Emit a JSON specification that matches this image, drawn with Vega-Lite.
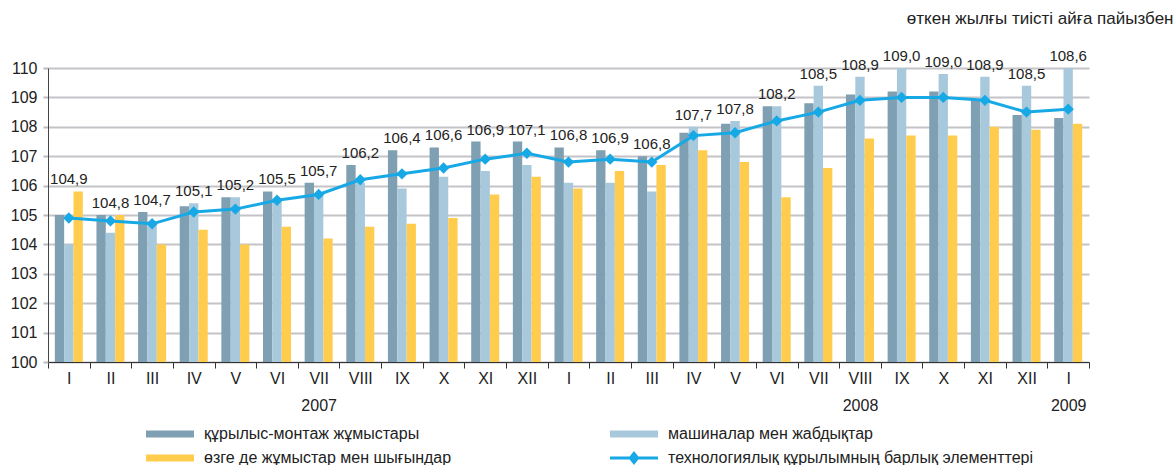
{
  "$schema": "https://vega.github.io/schema/vega-lite/v6.json",
  "width": 1041,
  "height": 294,
  "autosize": "none",
  "padding": {"left": 48, "top": 68, "right": 87, "bottom": 103},
  "background": "white",
  "config": {
    "font": "Liberation Sans",
    "view": {"stroke": null},
    "axisY": {
      "values": [100, 101, 102, 103, 104, 105, 106, 107, 108, 109, 110],
      "tickCount": 11,
      "labelOverlap": false,
      "format": "d",
      "grid": true,
      "gridColor": "#C3C3C8",
      "gridWidth": 2,
      "tickSize": 5,
      "tickColor": "#BBBBC0",
      "tickWidth": 2,
      "domainColor": "#444444",
      "domainWidth": 1,
      "labelFontSize": 16,
      "labelColor": "#222222",
      "labelPadding": 6,
      "title": null
    }
  },
  "title": {
    "text": "өткен жылғы тиісті  айға пайызбен",
    "anchor": "end",
    "orient": "top",
    "offset": 21,
    "dx": 84,
    "fontSize": 17,
    "fontWeight": "normal",
    "font": "Liberation Sans",
    "color": "#222222"
  },
  "data": {
    "values": [
      {"m": "I-2007", "a": 105.0, "b": 104.0, "c": 105.8, "t": 104.9},
      {"m": "II-2007", "a": 105.0, "b": 104.4, "c": 105.0, "t": 104.8},
      {"m": "III-2007", "a": 105.1, "b": 104.8, "c": 104.0, "t": 104.7},
      {"m": "IV-2007", "a": 105.3, "b": 105.4, "c": 104.5, "t": 105.1},
      {"m": "V-2007", "a": 105.6, "b": 105.6, "c": 104.0, "t": 105.2},
      {"m": "VI-2007", "a": 105.8, "b": 105.5, "c": 104.6, "t": 105.5},
      {"m": "VII-2007", "a": 106.1, "b": 105.7, "c": 104.2, "t": 105.7},
      {"m": "VIII-2007", "a": 106.7, "b": 106.1, "c": 104.6, "t": 106.2},
      {"m": "IX-2007", "a": 107.2, "b": 105.9, "c": 104.7, "t": 106.4},
      {"m": "X-2007", "a": 107.3, "b": 106.3, "c": 104.9, "t": 106.6},
      {"m": "XI-2007", "a": 107.5, "b": 106.5, "c": 105.7, "t": 106.9},
      {"m": "XII-2007", "a": 107.5, "b": 106.7, "c": 106.3, "t": 107.1},
      {"m": "I-2008", "a": 107.3, "b": 106.1, "c": 105.9, "t": 106.8},
      {"m": "II-2008", "a": 107.2, "b": 106.1, "c": 106.5, "t": 106.9},
      {"m": "III-2008", "a": 107.0, "b": 105.8, "c": 106.7, "t": 106.8},
      {"m": "IV-2008", "a": 107.8, "b": 108.0, "c": 107.2, "t": 107.7},
      {"m": "V-2008", "a": 108.1, "b": 108.2, "c": 106.8, "t": 107.8},
      {"m": "VI-2008", "a": 108.7, "b": 108.7, "c": 105.6, "t": 108.2},
      {"m": "VII-2008", "a": 108.8, "b": 109.4, "c": 106.6, "t": 108.5},
      {"m": "VIII-2008", "a": 109.1, "b": 109.7, "c": 107.6, "t": 108.9},
      {"m": "IX-2008", "a": 109.2, "b": 110.0, "c": 107.7, "t": 109.0},
      {"m": "X-2008", "a": 109.2, "b": 109.8, "c": 107.7, "t": 109.0},
      {"m": "XI-2008", "a": 108.9, "b": 109.7, "c": 108.0, "t": 108.9},
      {"m": "XII-2008", "a": 108.4, "b": 109.4, "c": 107.9, "t": 108.5},
      {"m": "I-2009", "a": 108.3, "b": 110.0, "c": 108.1, "t": 108.6}
    ]
  },
  "layer": [
    {
      "transform": [{"fold": ["a", "b", "c"], "as": ["series", "value"]}],
      "mark": {"type": "bar", "strokeWidth": 0},
      "encoding": {
        "x": {
          "field": "m",
          "type": "nominal",
          "sort": null,
          "scale": {"paddingInner": 0, "paddingOuter": 0},
          "axis": {
            "title": null,
            "labelAngle": 0,
            "tickBand": "extent",
            "tickSize": 6,
            "tickColor": "#333333",
            "tickWidth": 1,
            "domainColor": "#333333",
            "domainWidth": 1,
            "labelFontSize": 16,
            "labelColor": "#222222",
            "labelPadding": 2,
            "labelLineHeight": 27,
            "labelBaseline": "top",
            "grid": false,
            "labelExpr": "!isString(datum.value) ? '' : datum.value == 'VII-2007' ? ['VII', '2007'] : datum.value == 'VIII-2008' ? ['VIII', '2008'] : datum.value == 'I-2009' ? ['I', '2009'] : slice(datum.value, 0, indexof(datum.value, '-'))"
          }
        },
        "xOffset": {
          "field": "series",
          "sort": ["a", "b", "c"],
          "scale": {"paddingInner": 0, "paddingOuter": 0.73}
        },
        "y": {
          "field": "value",
          "type": "quantitative",
          "scale": {"domain": [100, 110], "zero": false, "nice": false},
          "axis": {"values": [100, 101, 102, 103, 104, 105, 106, 107, 108, 109, 110], "title": null}
        },
        "y2": {"datum": 100},
        "color": {
          "field": "series",
          "type": "nominal",
          "scale": {
            "domain": ["a", "b", "c", "t"],
            "range": ["#7F9FB2", "#A8C9DC", "#FFCC4E", "#17A9E6"]
          },
          "legend": {
            "title": null,
            "orient": "none",
            "legendX": 95,
            "legendY": 358,
            "direction": "horizontal",
            "columns": 2,
            "columnPadding": 155,
            "rowPadding": 8,
            "padding": 0,
            "symbolSize": 100,
            "symbolOffset": 19,
            "labelOffset": 26,
            "labelLimit": 0,
            "labelFontSize": 16,
            "labelColor": "#222222",
            "labelFont": "Liberation Sans",
            "labelExpr": "datum.value == 'a' ? 'құрылыс-монтаж жұмыстары' : datum.value == 'b' ? 'машиналар мен жабдықтар' : datum.value == 'c' ? 'өзге де жұмыстар мен шығындар' : 'технологиялық құрылымның барлық элементтері'",
            "encode": {
              "symbols": {
                "update": {
                  "shape": {"signal": "datum.value == 't' ? 'M-4.8,-0.3H4.8V0.3H-4.8Z M0,-1.4L1.1,0L0,1.4L-1.1,0Z' : 'M-4.8,-0.7H4.8V0.7H-4.8Z'"},
                  "fill": {"scale": "color", "field": "value"},
                  "strokeWidth": {"value": 0},
                  "opacity": {"value": 1}
                }
              }
            }
          }
        }
      }
    },
    {
      "mark": {"type": "line", "strokeWidth": 3},
      "encoding": {
        "x": {"field": "m", "type": "nominal", "sort": null},
        "y": {"field": "t", "type": "quantitative", "axis": {"values": [100, 101, 102, 103, 104, 105, 106, 107, 108, 109, 110], "title": null}},
        "color": {"datum": "t"}
      }
    },
    {
      "mark": {"type": "point", "shape": "diamond", "filled": true, "size": 130, "opacity": 1},
      "encoding": {
        "x": {"field": "m", "type": "nominal", "sort": null},
        "y": {"field": "t", "type": "quantitative", "axis": {"values": [100, 101, 102, 103, 104, 105, 106, 107, 108, 109, 110], "title": null}},
        "color": {"datum": "t"}
      }
    },
    {
      "transform": [
        {"fold": ["a", "b", "c"], "as": ["series", "value"]},
        {"aggregate": [{"op": "max", "field": "value", "as": "top"}], "groupby": ["m", "t"]},
        {"calculate": "replace(format(datum.t, '.1f'), '.', ',')", "as": "lbl"}
      ],
      "mark": {"type": "text", "fontSize": 15, "color": "#222222", "baseline": "middle", "dy": -12},
      "encoding": {
        "x": {"field": "m", "type": "nominal", "sort": null},
        "y": {"field": "top", "type": "quantitative", "axis": {"values": [100, 101, 102, 103, 104, 105, 106, 107, 108, 109, 110], "title": null}},
        "text": {"field": "lbl", "type": "nominal"}
      }
    }
  ]
}
